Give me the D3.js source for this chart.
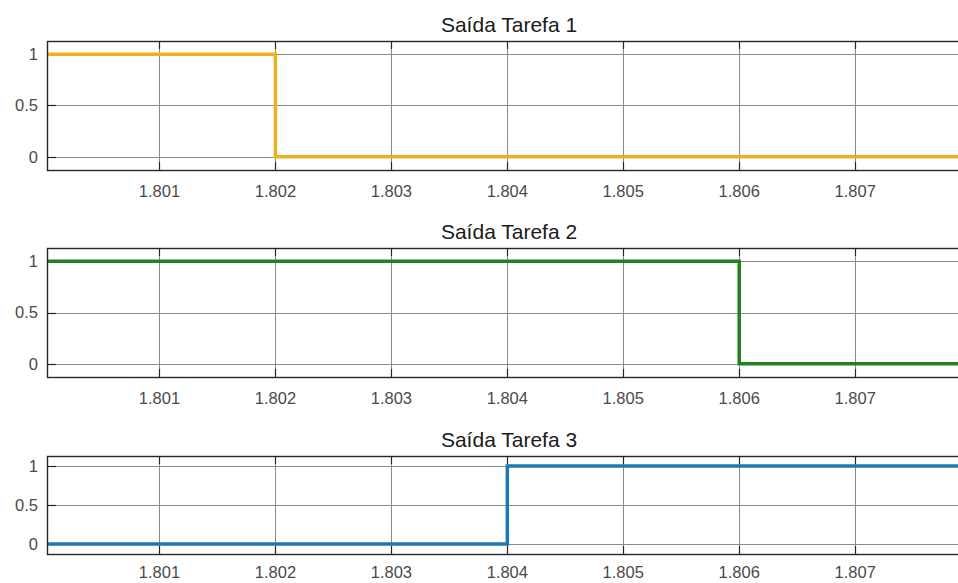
<!DOCTYPE html>
<html>
<head>
<meta charset="utf-8">
<script src="https://cdn.jsdelivr.net/npm/d3@7"></script>
<style>
  html, body { margin: 0; padding: 0; background: #fff; overflow: hidden; }
  svg { display: block; }
</style>
</head>
<body>
<svg id="chart" width="958" height="583"></svg>
<script>
// ---- data ----
const titles = ["Saída Tarefa 1", "Saída Tarefa 2", "Saída Tarefa 3"];
const colors = ["#EDB120", "#23801f", "#1f77b4"];
const t1 = [1.800, 1.802, 1.808];
const v1 = [1, 0, 0];
const t2 = [1.800, 1.806, 1.808];
const v2 = [1, 0, 0];
const t3 = [1.800, 1.804, 1.808];
const v3 = [0, 1, 1];
const xTicks = [1.801, 1.802, 1.803, 1.804, 1.805, 1.806, 1.807];
const yTicks = [0, 0.5, 1];
const xDomain = [1.80003, 1.808];
const yDomain = [-0.13, 1.13];

const series = [
  t1.map((t, i) => ({ t, v: v1[i] })),
  t2.map((t, i) => ({ t, v: v2[i] })),
  t3.map((t, i) => ({ t, v: v3[i] }))
];

// ---- layout ----
const left = 47;
const pxPerMs = 115.95;
const right = left + (xDomain[1] - xDomain[0]) * 1000 * pxPerMs;
const panels = [
  { top: 41, bottom: 170, lab: 27 },
  { top: 248, bottom: 377, lab: 27 },
  { top: 456, bottom: 554, lab: 24 }
];

const svg = d3.select("#chart");
const font = "'Liberation Sans', Arial, Helvetica, sans-serif";
const x = d3.scaleLinear().domain(xDomain).range([left, right]);

panels.forEach((p, i) => {
  const y = d3.scaleLinear().domain(yDomain).range([p.bottom, p.top]);
  const g = svg.append("g");

  // clip
  const cid = "clip" + i;
  svg.append("defs").append("clipPath").attr("id", cid)
    .append("rect").attr("x", left).attr("y", p.top)
    .attr("width", right - left).attr("height", p.bottom - p.top);

  // grid
  g.append("g").selectAll("line.gx").data(xTicks).join("line")
    .attr("x1", d => Math.round(x(d)) + 0.5).attr("x2", d => Math.round(x(d)) + 0.5)
    .attr("y1", p.top).attr("y2", p.bottom)
    .attr("stroke", "#8a8a8a").attr("stroke-width", 1);
  g.append("g").selectAll("line.gy").data(yTicks).join("line")
    .attr("x1", left).attr("x2", right)
    .attr("y1", d => Math.round(y(d)) + 0.5).attr("y2", d => Math.round(y(d)) + 0.5)
    .attr("stroke", "#8a8a8a").attr("stroke-width", 1);

  // inner tick marks
  g.append("g").selectAll("line").data(xTicks).join("line")
    .attr("x1", d => Math.round(x(d)) + 0.5).attr("x2", d => Math.round(x(d)) + 0.5)
    .attr("y1", p.bottom).attr("y2", p.bottom - 8)
    .attr("stroke", "#262626").attr("stroke-width", 1.2);
  g.append("g").selectAll("line").data(xTicks).join("line")
    .attr("x1", d => Math.round(x(d)) + 0.5).attr("x2", d => Math.round(x(d)) + 0.5)
    .attr("y1", p.top).attr("y2", p.top + 8)
    .attr("stroke", "#262626").attr("stroke-width", 1.2);
  g.append("g").selectAll("line").data(yTicks).join("line")
    .attr("x1", left).attr("x2", left + 9)
    .attr("y1", d => Math.round(y(d)) + 0.5).attr("y2", d => Math.round(y(d)) + 0.5)
    .attr("stroke", "#262626").attr("stroke-width", 1.2);

  // line
  const line = d3.line().x(d => x(d.t)).y(d => y(d.v)).curve(d3.curveStepAfter);
  g.append("path").datum(series[i])
    .attr("clip-path", `url(#${cid})`)
    .attr("d", line)
    .attr("fill", "none")
    .attr("stroke", colors[i])
    .attr("stroke-width", 3.5);

  // frame
  g.append("rect")
    .attr("x", left + 0.5).attr("y", p.top + 0.5)
    .attr("width", right - left).attr("height", p.bottom - p.top)
    .attr("fill", "none").attr("stroke", "#262626").attr("stroke-width", 1.4);

  // x tick labels
  g.append("g").selectAll("text").data(xTicks).join("text")
    .attr("x", d => x(d)).attr("y", p.bottom + p.lab)
    .attr("text-anchor", "middle")
    .attr("font-family", font).attr("font-size", 16.5)
    .attr("fill", "#4a4a4a")
    .text(d => d3.format(".3f")(d));

  // y tick labels
  g.append("g").selectAll("text").data(yTicks).join("text")
    .attr("x", left - 9).attr("y", d => y(d))
    .attr("dy", "0.36em")
    .attr("text-anchor", "end")
    .attr("font-family", font).attr("font-size", 16.5)
    .attr("fill", "#4a4a4a")
    .text(d => d === 0.5 ? "0.5" : String(d));

  // title
  g.append("text")
    .attr("x", (left + right) / 2).attr("y", p.top - 9)
    .attr("text-anchor", "middle")
    .attr("font-family", font).attr("font-size", 21)
    .attr("fill", "#1a1a1a")
    .text(titles[i]);
});
</script>
</body>
</html>
